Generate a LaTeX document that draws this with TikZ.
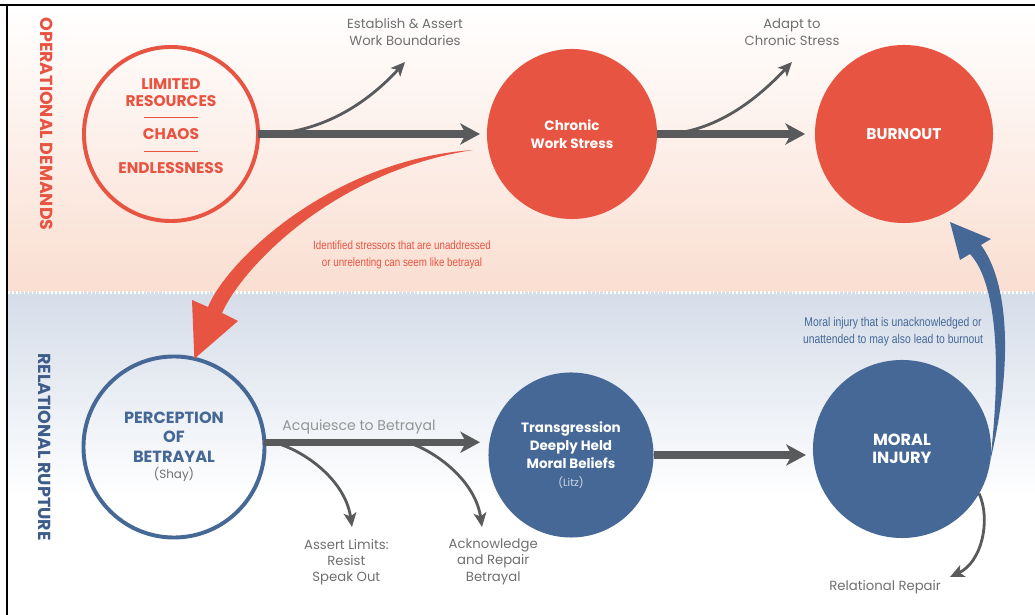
\documentclass[tikz,border=0pt]{standalone}
\usepackage{fontspec}
\setmainfont{Poppins}
\newfontfamily\condfont[FakeStretch=0.82]{Liberation Sans}
\usetikzlibrary{arrows.meta, positioning, calc, shapes.geometric}

\definecolor{redc}{RGB}{232,84,66}
\definecolor{bluec}{RGB}{69,104,150}
\definecolor{sideblue}{RGB}{62,92,138}
\definecolor{arrowgrey}{RGB}{88,90,92}
\definecolor{labelgrey}{RGB}{112,112,112}
\definecolor{peach}{RGB}{250,222,209}
\definecolor{mist}{RGB}{213,221,233}

\begin{document}
\begin{tikzpicture}[
    x=0.025cm, y=-0.025cm,
    ring/.style={circle, draw, line width=2.8pt, inner sep=0pt, outer sep=0pt, align=center, font=\bfseries\fontsize{11.5}{13.8}\selectfont},
    redring/.style={ring, draw=redc, text=redc, minimum size=4.35cm},
    bluering/.style={ring, draw=bluec, text=bluec, minimum size=4.525cm},
    ball/.style={circle, inner sep=0pt, outer sep=0pt, align=center, text=white, font=\bfseries\fontsize{9.6}{12.8}\selectfont},
    redball/.style={ball, fill=redc},
    blueball/.style={ball, fill=bluec},
    mainarrow/.style={draw=arrowgrey, line width=5pt, -{Stealth[length=14pt,width=15pt,inset=4pt]}},
    brancharrow/.style={draw=arrowgrey, line width=2pt, -{Stealth[length=10pt,width=9pt,inset=2.5pt]}},
    choice/.style={align=center, text=labelgrey, font=\fontsize{9.4}{11.5}\selectfont},
    note/.style={align=center, font=\condfont\fontsize{8.5}{12}\selectfont},
    sidelabel/.style={rotate=-90, font=\bfseries\fontsize{12.4}{14}\selectfont}
]
\useasboundingbox (0,0) rectangle (1035,615);

% Bands
\fill[white] (0,0) rectangle (1035,615);
\shade[top color=white, bottom color=peach] (8,7) rectangle (1035,292);
\shade[top color=mist, bottom color=white] (8,293) rectangle (1035,500);
\draw[white, line width=1.5pt, dash pattern=on 1.2pt off 1.6pt] (8,292.5) -- (1035,292.5);
\draw[black, line width=1.5pt] (0,5) -- (1035,5);
\draw[black, line width=1.3pt] (7,5) -- (7,615);

\node[sidelabel, text=redc] (opdemands) at (47,124) {OPERATIONAL DEMANDS};
\node[sidelabel, text=sideblue] (relrupture) at (45,447) {RELATIONAL RUPTURE};

% Operational demands
\node[redring] (limited) at (171,134) {};
\node[text=redc, align=center, font=\bfseries\fontsize{11}{12}\selectfont] (limitedtext) at ($(limited)+(0,-8)$)
  {LIMITED\\RESOURCES\\\rule[3.5pt]{39pt}{0.6pt}\\CHAOS\\\rule[3.5pt]{39pt}{0.6pt}\\ENDLESSNESS};
\node[redball, minimum size=4.25cm] (stress) at (572,134) {Chronic\\Work Stress};
\node[redball, minimum size=4.45cm, font=\bfseries\fontsize{11}{12}\selectfont] (burnout) at (904,134) {BURNOUT};

% Relational rupture
\node[bluering] (betrayal) at (174,447) {PERCEPTION\\OF\\BETRAYAL\\[-2pt]{\mdseries\fontsize{8.5}{10}\selectfont\color{labelgrey}(Shay)}};
\node[blueball, minimum size=4.125cm] (trans) at (571,455) {Transgression\\Deeply Held\\Moral Beliefs\\{\mdseries\fontsize{7.5}{9}\selectfont\color{white!75!bluec}(Litz)}};
\node[blueball, minimum size=4.45cm, font=\bfseries\fontsize{11.5}{12.8}\selectfont] (moral) at (902,449) {MORAL\\INJURY};

% Top row arrows
\draw[mainarrow, shorten >=5pt] (limited) -- (stress);
\coordinate (boundtip) at (405,62);
\node[choice, font=\fontsize{9.4}{12}\selectfont, above=8pt of boundtip] (bound) {Establish \& Assert\\Work Boundaries};
\draw[brancharrow] (limited.east) ++(14,0) .. controls (330,130) and (372,98) .. (boundtip);

\draw[mainarrow, shorten >=7pt] (stress) -- (burnout);
\coordinate (adapttip) at (792,62);
\node[choice, font=\fontsize{9.4}{12}\selectfont, above=8pt of adapttip] (adapt) {Adapt to\\Chronic Stress};
\draw[brancharrow] (stress.east) ++(12,0) .. controls (720,130) and (760,96) .. (adapttip);

% Stress into betrayal
\coordinate (redfrom) at (473,150);
\fill[redc] (redfrom) .. controls (330,160) and (226,262) .. (208,307) -- (192,300) -- (betrayal.77)
  -- (238,321) -- (222,313) .. controls (242,268) and (332,172) .. (redfrom);
\node[note, text=redc] (betraynote) at (402,255) {Identified stressors that are unaddressed\\or unrelenting can seem like betrayal};

% Bottom row arrows
\draw[mainarrow, shorten >=6pt] (betrayal.3) -- (betrayal.3 -| trans.west);
\node[choice, font=\fontsize{10}{12}\selectfont, text=labelgrey!75] (acquiesce) at (359,427) {Acquiesce to Betrayal};

\coordinate (limitstip) at (352,527);
\draw[brancharrow] (betrayal.3) ++(8,0) .. controls (300,448) and (345,478) .. (limitstip);
\node[choice, below=5pt of limitstip, xshift=-4pt] (limits) {Assert Limits:\\Resist\\Speak Out};

\coordinate (repairtip) at (482,527);
\draw[brancharrow] (betrayal.3) ++(142,0) .. controls (430,448) and (475,478) .. (repairtip);
\node[choice, below=5pt of repairtip, xshift=8pt] (repair) {Acknowledge\\and Repair\\Betrayal};

\draw[mainarrow, shorten >=5pt] (trans.east) -- (trans.east -| moral.west);

% Moral injury back to burnout
\coordinate (bluetip) at (950,222);
\fill[bluec] (moral.-8) .. controls (1014,360) and (1008,282) .. (981,245) -- (991,239) -- (bluetip)
  -- (960,260) -- (970,254) .. controls (996,282) and (1002,360) .. (moral.-8);
\node[note, text=bluec, font=\condfont\fontsize{9}{12}\selectfont] (burnnote) at (893,332) {Moral injury that is unacknowledged or\\unattended to may also lead to burnout};

\coordinate (reltip) at (950,577);
\draw[brancharrow] (moral.-30) .. controls (991,520) and (982,562) .. (reltip);
\node[choice, left=3pt of reltip, yshift=-7pt] (relrepair) {Relational Repair};

\end{tikzpicture}
\end{document}
